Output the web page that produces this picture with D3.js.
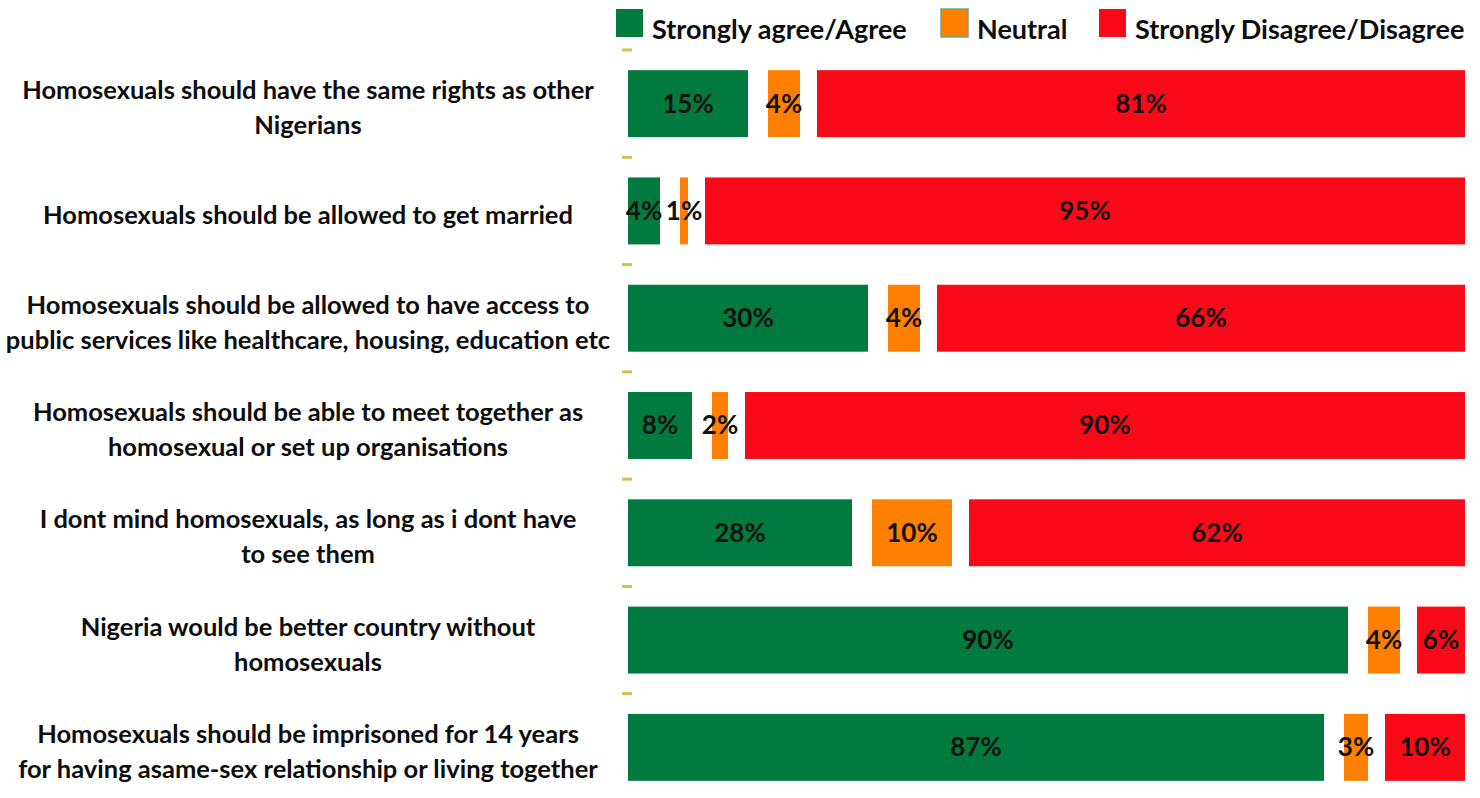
<!DOCTYPE html>
<html lang="en">
<head>
    <meta charset="UTF-8">
    <title>Attitudes towards homosexuals</title>
    <script src="https://d3js.org/d3.v7.min.js"></script>
    <style>
        body, html {
            margin: 0;
            padding: 0;
            background-color: #ffffff;
            font-family: 'Lato', 'Open Sans', sans-serif;
        }
        svg {
            display: block;
        }
    </style>
</head>
<body>
<svg id="chart" width="1480" height="798"></svg>

<script>
    // chart values
    const categories = [
        'Homosexuals should have the same rights as other\nNigerians',
        'Homosexuals should be allowed to get married',
        'Homosexuals should be allowed to have access to\npublic services like healthcare, housing, education etc',
        'Homosexuals should be able to meet together as\nhomosexual or set up organisations',
        'I dont mind homosexuals, as long as i dont have\nto see them',
        'Nigeria would be better country without\nhomosexuals',
        'Homosexuals should be imprisoned for 14 years\nfor having asame-sex relationship or living together'
    ];
    const agree = [15, 4, 30, 8, 28, 90, 87];
    const neutral = [4, 1, 4, 2, 10, 4, 3];
    const disagree = [81, 95, 66, 90, 62, 6, 10];
    const seriesNames = ['Strongly agree/Agree', 'Neutral', 'Strongly Disagree/Disagree'];

    const colors = ['#007a3e', '#ff8000', '#fa0a18'];

    const svg = d3.select('#chart');

    // empty space left between the three parts of a bar (in % units)
    const gapA = 2.5;
    const gapB = 2.125;

    const x = d3.scaleLinear()
        .domain([0, 100 + gapA + gapB])
        .range([628, 1465]);

    const y = d3.scaleBand()
        .domain(categories)
        .range([50, 801])
        .paddingInner(0.376)
        .paddingOuter(0.188);

    // build segments for each row
    const rows = categories.map((c, i) => {
        const a = agree[i], n = neutral[i], d = disagree[i];
        return {
            cat: c,
            segs: [
                { s: 0, v: a, k: 0 },
                { s: a + gapA, v: n, k: 1 },
                { s: a + gapA + n + gapB, v: d, k: 2 }
            ]
        };
    });

    // little tick marks between categories
    svg.append('g')
        .selectAll('line')
        .data(categories)
        .join('line')
        .attr('x1', 622)
        .attr('x2', 632)
        .attr('y1', d => y(d) - y.step() * y.paddingInner() / 2)
        .attr('y2', d => y(d) - y.step() * y.paddingInner() / 2)
        .attr('stroke', '#d8bd4c')
        .attr('stroke-width', 3);

    const rowG = svg.append('g')
        .selectAll('g')
        .data(rows)
        .join('g')
        .attr('transform', d => `translate(0,${y(d.cat)})`);

    rowG.selectAll('rect')
        .data(d => d.segs)
        .join('rect')
        .attr('x', d => x(d.s))
        .attr('y', 0)
        .attr('width', d => x(d.s + d.v) - x(d.s))
        .attr('height', y.bandwidth())
        .attr('fill', d => colors[d.k]);

    rowG.selectAll('text.val')
        .data(d => d.segs)
        .join('text')
        .attr('class', 'val')
        .attr('x', d => x(d.s + d.v / 2))
        .attr('y', y.bandwidth() / 2 + 9)
        .attr('text-anchor', 'middle')
        .style('font-size', '26px')
        .style('font-weight', 'bold')
        .style('fill', '#111')
        .text(d => d.v + '%');

    // category labels, centred in the left area
    const labelG = svg.append('g')
        .selectAll('text')
        .data(categories)
        .join('text')
        .attr('text-anchor', 'middle')
        .style('font-size', '25.5px')
        .style('font-weight', 'bold')
        .style('fill', '#0d0d0d');

    labelG.each(function (d) {
        const lines = d.split('\n');
        const lh = 35;
        const cy = y(d) + y.bandwidth() / 2 + 5;
        const top = cy - (lines.length - 1) * lh / 2 + 8;
        d3.select(this).selectAll('tspan')
            .data(lines)
            .join('tspan')
            .attr('x', 308)
            .attr('y', (l, j) => top + j * lh)
            .text(l => l);
    });

    // legend
    const legendX = [616, 941, 1099];
    const legend = svg.append('g')
        .selectAll('g')
        .data(seriesNames)
        .join('g')
        .attr('transform', (d, i) => `translate(${legendX[i]},9)`);

    legend.append('rect')
        .attr('width', 27)
        .attr('height', 28)
        .attr('fill', (d, i) => colors[i])
        .attr('stroke', (d, i) => i === 1 ? '#6aa88a' : 'none')
        .attr('stroke-width', 1.5);

    legend.append('text')
        .attr('x', 36)
        .attr('y', 30)
        .style('font-size', '27px')
        .style('font-weight', 'bold')
        .style('fill', '#0d0d0d')
        .text(d => d);
</script>
</body>
</html>
